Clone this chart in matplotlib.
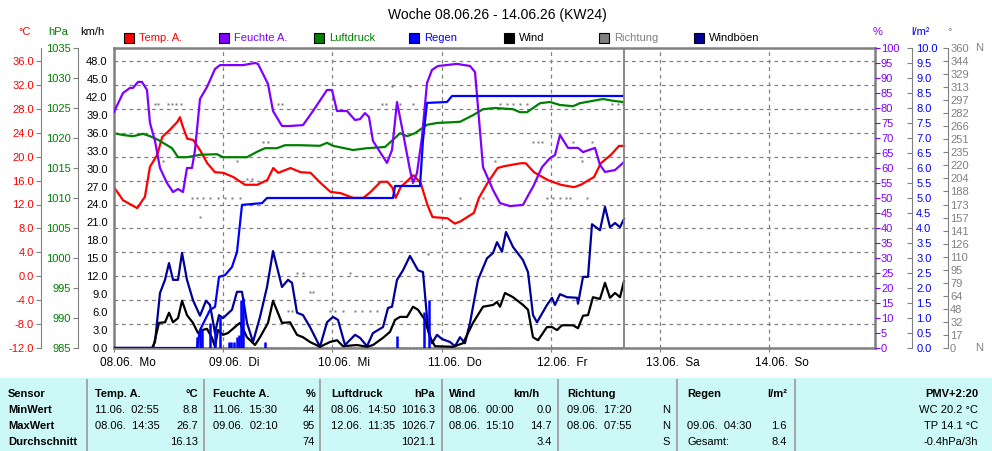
import numpy as np
import matplotlib
matplotlib.use('Agg')
import matplotlib.pyplot as plt
from matplotlib.patches import Rectangle
from matplotlib.lines import Line2D
from matplotlib.transforms import ScaledTranslation, blended_transform_factory

plt.rcParams['font.family'] = ['Liberation Sans', 'DejaVu Sans']
plt.rcParams['font.size'] = 8

# ---- data (hours since 08.06. 00:00) ----
temp_h = [0, 2.0, 5.1, 6.8, 7.9, 9.5, 10.6, 12.3, 13.9, 14.5, 15.0, 16.1, 17.4, 18.9, 20.5,
          22.2, 24.0, 26.2, 28.8, 31.5, 33.7, 35.0, 36.1, 38.8, 41.0, 43.2, 45.4, 47.6, 49.8,
          52.6, 54.8, 56.4, 58.6, 60.1, 61.2, 61.9, 63.0, 65.8, 67.4, 68.9, 70.0, 73.3, 74.9,
          76.2, 79.1, 80.2, 82.1, 84.3, 85.7, 89.4, 90.5, 92.3, 95.3, 98.2, 101.1, 102.6,
          105.5, 107.0, 109.2, 111.0, 112.1]
temp_c = [14.9, 12.7, 11.4, 13.3, 18.3, 20.3, 23.3, 24.5, 25.8, 26.6, 25.3, 23.0, 22.8, 21.1, 18.9,
          17.4, 17.3, 16.6, 15.3, 15.3, 16.1, 18.1, 17.3, 18.1, 17.4, 17.3, 15.6, 14.1, 13.9,
          13.1, 13.1, 14.1, 15.8, 15.8, 14.8, 13.1, 14.9, 16.9, 15.6, 11.9, 9.9, 9.7, 8.8,
          9.2, 10.6, 13.1, 15.6, 18.1, 18.4, 18.9, 18.9, 17.4, 16.1, 15.3, 14.9, 15.3,
          16.6, 18.9, 20.3, 21.8, 21.8]

hum_h = [0, 1.98, 3.52, 4.18, 5.27, 6.15, 7.25, 7.91, 9.01, 10.11, 11.65, 12.97, 14.07, 15.16,
         16.04, 17.14, 17.8, 18.9, 20.44, 22.2, 23.3, 28.35, 30.99, 31.65, 33.85, 34.95, 36.92,
         38.68, 41.54, 43.74, 46.81, 47.91, 49.01, 51.21, 52.97, 54.07, 55.16, 56.04, 56.92,
         60.0, 61.1, 62.2, 63.52, 65.05, 65.71, 66.59, 67.69, 68.79, 69.89, 71.21, 75.38, 78.24,
         79.34, 80.0, 81.1, 83.3, 84.84, 87.03, 89.89, 91.43, 92.09, 94.07, 95.82, 96.92, 98.02,
         99.78, 101.98, 103.08, 105.71, 106.81, 107.91, 110.11, 111.87]
hum_pct = [78.7, 85, 86.7, 86.7, 88.7, 88.7, 86, 75, 69, 60, 55, 52, 53, 52,
           60, 60, 66, 83, 87, 93, 94.3, 94.3, 95, 94.7, 88, 79, 74,
           74, 74.3, 79, 86, 86, 79, 79, 76, 76.3, 78.3, 77, 69,
           61.7, 66, 82, 71.7, 59.3, 55, 58.3, 70.3, 88.3, 92.7, 94, 94.7, 94,
           92, 80.3, 60.3, 52.7, 48.3, 47.3, 47.7, 52, 53.7, 60.3, 63.3, 64.3, 71,
           66.7, 66.7, 65.3, 66.7, 61, 58.7, 59.3, 61.7]

press_h = [0, 1.98, 4.18, 6.37, 7.91, 9.67, 11.65, 12.75, 14.07, 16.04, 18.9, 22.64, 23.96,
           29.23, 31.43, 33.19, 35.82, 37.58, 40.88, 45.27, 46.81, 48.13, 52.53, 55.6, 59.56,
           61.76, 62.86, 64.4, 66.15, 68.79, 70.99, 76.04, 78.9, 81.1, 83.74, 87.69, 89.23,
           90.77, 93.63, 95.82, 98.02, 100.88, 102.42, 105.27, 107.47, 109.67, 111.87]
press_hpa = [1020.8, 1020.5, 1020.3, 1020.7, 1020.3, 1019.7, 1018.8, 1018.3, 1016.8, 1016.8,
             1017.2, 1017.3, 1016.8, 1016.8, 1017.7, 1018.3, 1018.3, 1018.8, 1018.8, 1018.7,
             1019.2, 1018.7, 1018.0, 1018.3, 1018.5, 1020.0, 1020.8, 1020.3, 1020.8, 1022.2,
             1022.5, 1022.7, 1023.8, 1024.8, 1025.0, 1024.8, 1024.3, 1024.3, 1025.8, 1026.0,
             1025.5, 1025.3, 1025.8, 1026.2, 1026.5, 1026.2, 1026.0]

rain_h = [0, 18.24, 18.9, 21.1, 22.2, 23.08, 24.4, 25.93, 27.03, 28.13, 32.53, 33.63, 61.32,
          61.76, 67.25, 67.91, 68.79, 73.19, 74.29, 111.87]
rain_sum = [0, 0, 0.6, 1.27, 1.37, 2.37, 2.43, 2.7, 3.2, 4.77, 4.83, 5.0, 5.0,
            5.4, 5.4, 6.93, 8.17, 8.2, 8.4, 8.4]

rain_bar_h = [18.3, 18.8, 19.3, 21.1, 22.2, 23.2, 25.2, 25.8, 26.3, 27.0, 27.4, 27.9, 28.3,
              33.1, 62.1, 68.1, 69.2]
rain_bar = [0.38, 0.6, 0.62, 0.82, 0.6, 1.04, 0.21, 0.21, 0.21, 0.38, 0.43, 1.6, 1.66,
            0.21, 0.41, 1.21, 1.6]

wind_h = [0, 8.57, 9.89, 11.21, 12.09, 12.97, 14.07, 14.95, 16.04, 17.36, 18.46, 19.34, 20.44,
          21.54, 22.2, 22.86, 23.96, 25.05, 27.03, 27.69, 29.23, 30.99, 32.09, 33.85, 34.95,
          36.92, 38.68, 40.22, 41.54, 43.08, 45.27, 47.47, 49.01, 50.33, 53.41, 55.6, 56.92,
          59.12, 60.66, 61.76, 62.86, 64.4, 65.71, 66.81, 68.35, 69.45, 70.55, 74.51, 76.7,
          78.9, 81.1, 83.3, 84.18, 84.84, 85.93, 87.69, 89.89, 90.99, 92.09, 93.19, 95.16,
          96.26, 97.36, 98.46, 100.88, 101.98, 103.08, 104.18, 105.27, 106.81, 107.91, 109.01,
          110.11, 111.21, 112.09]
wind_kmh = [0, 0, 4.2, 4.3, 5.9, 4.3, 5.0, 7.9, 5.5, 4.2, 2.5, 3.0, 3.2,
            1.7, 0.2, 3.0, 2.2, 2.5, 3.8, 4.2, 1.8, 0.5, 1.8, 4.2, 7.9,
            4.2, 4.3, 2.2, 1.8, 1.0, 0.2, 1.0, 1.3, 0.3, 0.5, 0.2, 0.5,
            1.7, 2.7, 4.7, 5.2, 5.2, 6.9, 6.4, 4.7, 1.8, 0.3, 0.2, 0.8,
            4.2, 6.9, 7.2, 7.7, 6.9, 9.2, 8.5, 7.2, 6.4, 1.8, 1.3, 3.5,
            3.5, 3.0, 3.8, 3.8, 3.3, 5.4, 5.5, 8.5, 8.2, 10.9, 8.4,
            9.2, 8.5, 11.2]

gust_h = [0, 8.35, 9.01, 10.11, 11.21, 12.09, 12.97, 14.07, 14.95, 16.04, 17.36, 18.9, 20.22,
          21.1, 22.2, 23.08, 23.96, 25.93, 27.03, 28.13, 29.23, 30.55, 32.09, 33.63, 34.95,
          36.92, 38.24, 39.12, 40.22, 41.54, 43.08, 45.27, 46.81, 48.13, 49.23, 50.77, 52.97,
          54.07, 55.6, 56.92, 59.12, 60.22, 61.1, 62.2, 63.52, 65.05, 66.81, 67.91, 69.01,
          69.89, 70.99, 72.09, 73.85, 74.95, 76.04, 77.14, 78.24, 80.0, 81.98, 83.3, 84.18,
          85.27, 86.15, 87.69, 89.89, 90.99, 92.09, 92.97, 95.16, 96.26, 96.92, 98.02, 99.56,
          101.76, 101.98, 103.08, 104.18, 105.05, 106.81, 107.91, 109.01, 110.11, 111.21, 112.09]
gust_kmh = [0, 0, 1.0, 9.2, 11.4, 14.2, 11.4, 11.4, 15.9, 11.4, 8.0, 5.4, 7.9,
            7.2, 2.5, 5.5, 5.0, 6.4, 9.4, 9.4, 4.2, 1.0, 5.2, 10.2, 16.2,
            10.2, 11.4, 10.9, 5.9, 5.5, 3.5, 0.2, 4.3, 5.2, 4.7, 0.5, 2.2,
            1.7, 0.3, 2.5, 3.5, 6.7, 6.9, 11.4, 13.0, 15.4, 13.0, 12.7, 3.3,
            0.8, 2.2, 1.5, 1.0, 0.3, 1.8, 0.8, 4.2, 11.4, 15.0, 15.9, 17.7,
            16.1, 19.4, 16.9, 14.7, 12.7, 5.5, 4.3, 7.2, 8.4, 7.2, 9.0, 8.5,
            8.4, 7.4, 11.9, 11.9, 20.7, 19.7, 23.6, 20.2, 20.9, 20.2, 21.6]

dir_h = [9.01, 9.67, 11.87, 12.75, 13.63, 14.73, 10.77, 17.14, 18.24, 19.56, 21.1, 22.86, 24.4,
         25.93, 27.69, 18.9, 27.03, 29.23, 30.33, 32.75, 33.85, 36.04, 36.92, 38.24, 39.12,
         40.22, 41.54, 43.08, 43.74, 47.47, 48.57, 50.33, 51.87, 52.97, 54.51, 56.26, 57.8,
         58.9, 59.78, 62.86, 65.71, 61.1, 65.05, 69.01, 76.04, 81.1, 83.74, 84.84, 86.37,
         87.69, 89.23, 90.77, 92.09, 93.19, 94.07, 95.16, 96.48, 98.02, 99.34, 100.22, 100.88,
         102.86, 103.96, 105.05, 109.45, 110.77, 111.87]
dir_deg = [292.5, 292.5, 292.5, 292.5, 292.5, 292.5, 225, 180, 180, 180, 180, 180, 180,
           180, 180, 157.5, 225, 202.5, 202.5, 247.5, 247.5, 292.5, 292.5, 45, 45,
           90, 90, 67.5, 67.5, 45, 45, 45, 90, 45, 45, 45, 45,
           292.5, 292.5, 292.5, 292.5, 315, 315, 112.5, 180, 180, 225, 292.5, 292.5,
           292.5, 292.5, 292.5, 247.5, 247.5, 247.5, 180, 180, 180, 180, 180, 247.5,
           225, 180, 247.5, 292.5, 292.5, 292.5]

now_h = 112.1

day_labels = ['08.06.  Mo', '09.06.  Di', '10.06.  Mi', '11.06.  Do', '12.06.  Fr',
              '13.06.  Sa', '14.06.  So']
dir_labels = ['0', '17', '32', '48', '64', '79', '95', '110', '126', '141', '157', '173', '188',
              '204', '220', '235', '251', '266', '282', '297', '313', '329', '344', '360']

legend_names = ['Temp. A.', 'Feuchte A.', 'Luftdruck', 'Regen', 'Wind', 'Richtung', 'Windböen']
legend_fill = ['#FF0000', '#8000FF', '#008000', '#0000FF', '#000000', '#808080', '#000099']
legend_text = ['#FF0000', '#8000FF', '#008000', '#0000FF', '#000000', '#808080', '#000000']

table_rows = [
    ['Sensor', 'MinWert', 'MaxWert', 'Durchschnitt'],
    [('Temp. A.', '°C'), ('11.06.  02:55', '8.8'), ('08.06.  14:35', '26.7'), ('', '16.13')],
    [('Feuchte A.', '%'), ('11.06.  15:30', '44'), ('09.06.  02:10', '95'), ('', '74')],
    [('Luftdruck', 'hPa'), ('08.06.  14:50', '1016.3'), ('12.06.  11:35', '1026.7'), ('', '1021.1')],
    [('Wind', 'km/h'), ('08.06.  00:00', '0.0'), ('08.06.  15:10', '14.7'), ('', '3.4')],
    [('Richtung', ''), ('09.06.  17:20', 'N'), ('08.06.  07:55', 'N'), ('', 'S')],
    [('Regen', 'l/m²'), ('', ''), ('09.06.  04:30', '1.6'), ('Gesamt:', '8.4')],
]
extra_col = ['PMV+2:20', 'WC 20.2 °C', 'TP 14.1 °C', '-0.4hPa/3h']

# ---- layout ----
W, H = 992, 451
L, R, T, B = 114, 875, 48, 348
DAY_PX = 109.2
GRAY = '#808080'
RED, PURPLE, GREEN, BLUE, NAVY = '#FF0000', '#8000FF', '#008000', '#0000FF', '#000099'

fig = plt.figure(figsize=(W / 100, H / 100), dpi=100)
ax = fig.add_axes([L / W, 1 - B / H, (R - L) / W, (B - T) / H])
xmax = (R - L) / DAY_PX * 24

def frac(px):
    return (px - L) / (R - L)

# temperature axis (main) with grid
ax.set_xlim(0, xmax)
ax.set_ylim(-12, 36 + 13 * 48 / 287)
ax.set_yticks(np.arange(-12, 37, 4))
ax.set_yticklabels(['%.1f' % v for v in np.arange(-12, 37, 4)])
ax.set_xticks(np.arange(0, 168, 24))
ax.set_xticklabels([])
ax.grid(True, color=GRAY, ls=(0, (3, 3)), lw=0.9)
ax.tick_params(axis='x', length=3, color=GRAY)
ax.tick_params(axis='y', length=3.5, color=GRAY, labelcolor=RED, pad=1.5)
ax.spines['left'].set_position(('axes', frac(41)))
ax.spines['left'].set_color(GRAY)
for s in ['top', 'right', 'bottom']:
    ax.spines[s].set_color(GRAY)
    ax.spines[s].set_linewidth(1.8)
ax.plot(temp_h, temp_c, color=RED, lw=1.6, zorder=3)

xt = ax.get_xaxis_transform() + ScaledTranslation(-14 / 100, -15 / 100, fig.dpi_scale_trans)
for i, lab in enumerate(day_labels):
    ax.text(i * 24, 0, lab, transform=xt, ha='left', va='center', fontsize=8.5)

# pressure axis
ax_p = ax.twinx()
ax_p.set_ylim(985, 1035)
ax_p.set_yticks(np.arange(985, 1036, 5))
for s in ['top', 'right', 'bottom']:
    ax_p.spines[s].set_visible(False)
ax_p.spines['left'].set_visible(True)
ax_p.spines['left'].set_position(('axes', frac(78)))
ax_p.spines['left'].set_color(GRAY)
ax_p.yaxis.set_ticks_position('left')
ax_p.tick_params(axis='y', length=3.5, color=GRAY, labelcolor=GREEN, pad=1.5)
ax_p.plot(press_h, press_hpa, color=GREEN, lw=1.6, zorder=3)

# wind axis (plot border)
ax_w = ax.twinx()
ax_w.set_ylim(0, 48 + 13 * 48 / 287)
ax_w.set_yticks(np.arange(0, 49, 3))
ax_w.set_yticklabels(['%.1f' % v for v in np.arange(0, 49, 3)])
for s in ['top', 'right', 'bottom']:
    ax_w.spines[s].set_visible(False)
ax_w.spines['left'].set_visible(True)
ax_w.spines['left'].set_color(GRAY)
ax_w.spines['left'].set_linewidth(1.8)
ax_w.yaxis.set_ticks_position('left')
ax_w.tick_params(axis='y', length=0, labelcolor='black', pad=4.5)
ax_w.plot(gust_h, gust_kmh, color=NAVY, lw=1.6, zorder=3)
ax_w.plot(wind_h, wind_kmh, color='black', lw=1.6, zorder=4)

# humidity axis
ax_h = ax.twinx()
ax_h.set_ylim(0, 100)
ax_h.set_yticks(np.arange(0, 101, 5))
for s in ['top', 'left', 'bottom', 'right']:
    ax_h.spines[s].set_visible(False)
ax_h.tick_params(axis='y', length=3.5, color=PURPLE, labelcolor=PURPLE, pad=0.8)
ax_h.plot(hum_h, hum_pct, color=PURPLE, lw=1.6, zorder=3)

# rain axis
ax_r = ax.twinx()
ax_r.set_ylim(0, 10)
ax_r.set_yticks(np.arange(0, 10.01, 0.5))
ax_r.set_yticklabels(['%.1f' % v for v in np.arange(0, 10.01, 0.5)])
for s in ['top', 'left', 'bottom']:
    ax_r.spines[s].set_visible(False)
ax_r.spines['right'].set_position(('axes', frac(912)))
ax_r.spines['right'].set_color(GRAY)
ax_r.tick_params(axis='y', direction='in', length=3.5, color=GRAY, labelcolor=BLUE, pad=3)
ax_r.vlines(rain_bar_h, 0, rain_bar, color=BLUE, lw=1.8, zorder=3)
ax_r.plot([0, now_h], [0, 0], color=BLUE, lw=1, ls=(0, (1, 1.5)), zorder=2)
ax_r.plot(rain_h, rain_sum, color=BLUE, lw=1.6, zorder=3)

# direction axis
ax_d = ax.twinx()
ax_d.set_ylim(0, 360)
ax_d.set_yticks(np.linspace(0, 360, 24))
ax_d.set_yticklabels(dir_labels)
for s in ['top', 'left', 'bottom']:
    ax_d.spines[s].set_visible(False)
ax_d.spines['right'].set_position(('axes', frac(948)))
ax_d.spines['right'].set_color(GRAY)
ax_d.tick_params(axis='y', direction='in', length=3.5, color=GRAY, labelcolor=GRAY, pad=1.5)
ax_d.plot(dir_h, dir_deg, 's', ms=1.6, color=GRAY, mec='none', zorder=3)
ax_d.axvline(now_h, color=GRAY, lw=1.3)
bt = blended_transform_factory(ax_d.transAxes, ax_d.transData)
ax_d.text(frac(975), 360, 'N', transform=bt, color=GRAY, va='center', ha='left')
ax_d.text(frac(975), 0, 'N', transform=bt, color=GRAY, va='center', ha='left')

# title and unit headers
fig.text(497 / W, 1 - 15 / H, 'Woche 08.06.26 - 14.06.26 (KW24)', ha='center', va='center', fontsize=10)
for x, t, c in [(25, '°C', RED), (58, 'hPa', GREEN), (92, 'km/h', 'black'),
                (878, '%', PURPLE), (921, 'l/m²', BLUE), (950, '°', GRAY)]:
    fig.text(x / W, 1 - 32 / H, t, color=c, ha='center', va='center', fontsize=8)

# legend
for i, (name, fc, tc) in enumerate(zip(legend_names, legend_fill, legend_text)):
    x0 = 124 + 95 * i
    fig.add_artist(Rectangle((x0 / W, 1 - 43 / H), 10 / W, 10 / H, transform=fig.transFigure,
                             fc=fc, ec='black', lw=0.8))
    fig.text((x0 + 15) / W, 1 - 38 / H, name, color=tc, va='center', ha='left', fontsize=8)

# summary table
fig.add_artist(Rectangle((0, 0), 1, (H - 378) / H, transform=fig.transFigure,
                         fc='#CCF8F8', ec='none', zorder=0))
for x in [87, 204, 320, 442, 558, 677, 795]:
    fig.add_artist(Line2D([x / W, x / W], [0, 1 - 380 / H], transform=fig.transFigure,
                          color='#A0A0A0', lw=1.3))
row_y = [394, 410, 426, 442]
for j, t in enumerate(table_rows[0]):
    fig.text(8 / W, 1 - row_y[j] / H, t, fontweight='bold', va='center', ha='left')
col_left = [95, 213, 331, 449, 567, 687]
col_right = [198, 315, 435, 552, 670, 787]
for k, col in enumerate(table_rows[1:]):
    for j, (a, b) in enumerate(col):
        w = 'bold' if j == 0 else 'normal'
        rx = col_right[k]
        if j == 0 and k == 3:
            rx = 540
        fig.text(col_left[k] / W, 1 - row_y[j] / H, a, fontweight=w, va='center', ha='left')
        fig.text(rx / W, 1 - row_y[j] / H, b, fontweight=w, va='center', ha='right')
for j, t in enumerate(extra_col):
    fig.text(978 / W, 1 - row_y[j] / H, t, fontweight='bold' if j == 0 else 'normal',
             va='center', ha='right')

fig.savefig('out.png', dpi=100)
